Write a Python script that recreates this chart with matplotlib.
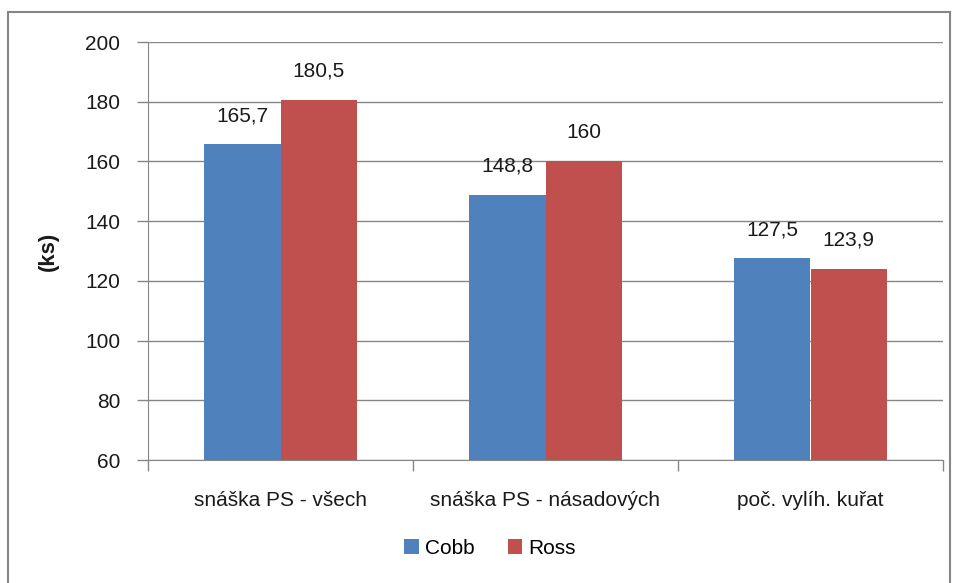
import numpy as np
import matplotlib.pyplot as plt
from matplotlib.patches import Rectangle

categories = ['snáška PS - všech', 'snáška PS - násadových', 'poč. vylíh. kuřat']
cobb = [165.7, 148.8, 127.5]
ross = [180.5, 160.0, 123.9]
cobb_labels = ['165,7', '148,8', '127,5']
ross_labels = ['180,5', '160', '123,9']

plt.rcParams['font.family'] = ['Liberation Sans', 'DejaVu Sans']

fig = plt.figure(figsize=(9.57, 5.83), dpi=100)
ax = fig.add_axes([148/957, 1 - 460/583, (943-148)/957, (460-42)/583])

# outer chart frame
fig.patches.append(Rectangle((8/957, -0.01), (950-8)/957, 1 - 12/583 + 0.01,
                             transform=fig.transFigure, fill=False,
                             edgecolor='#868686', linewidth=1.5))

x = np.arange(len(categories))
w = 0.287
grey = '#868686'
txt = '#1a1a1a'
b1 = ax.bar(x - w/2, [v - 60 for v in cobb], w, bottom=60, color='#4F81BD', label='Cobb', zorder=3)
b2 = ax.bar(x + w/2, [v - 60 for v in ross], w, bottom=60, color='#C0504D', label='Ross', zorder=3)

for i in range(len(categories)):
    ax.text(x[i] - w/2, cobb[i] + 6.5, cobb_labels[i], ha='center', va='bottom', fontsize=15, color=txt)
    ax.text(x[i] + w/2, ross[i] + 6.5, ross_labels[i], ha='center', va='bottom', fontsize=15, color=txt)

ax.set_xlim(-0.5, 2.5)
ax.set_ylim(60, 200)
ax.set_yticks(range(60, 201, 20))
ax.yaxis.grid(True, color=grey, linewidth=1, zorder=0)
ax.set_axisbelow(True)
ax.set_xticks(x)
ax.set_xticklabels(categories, fontsize=15, color=txt)
ax.set_xticks([-0.5, 0.5, 1.5, 2.5], minor=True)
ax.tick_params(axis='x', which='major', length=0, pad=22)
ax.tick_params(axis='x', which='minor', length=8, color=grey, width=1)
ax.tick_params(axis='y', length=8, color=grey, width=1, labelsize=15, labelcolor=txt, pad=12)
for s in ['top', 'right']:
    ax.spines[s].set_visible(False)
for s in ['left', 'bottom']:
    ax.spines[s].set_color(grey)
ax.set_ylabel('(ks)', fontsize=16, fontweight='bold', labelpad=19, color=txt)

fig.legend(handles=[b1, b2], labels=['Cobb', 'Ross'], loc='center', bbox_to_anchor=(490/957, 1 - 548/583),
           ncol=2, frameon=False, fontsize=15, handlelength=0.7, handleheight=0.7,
           columnspacing=1.6, handletextpad=0.3)

fig.savefig('out.png', dpi=100)
